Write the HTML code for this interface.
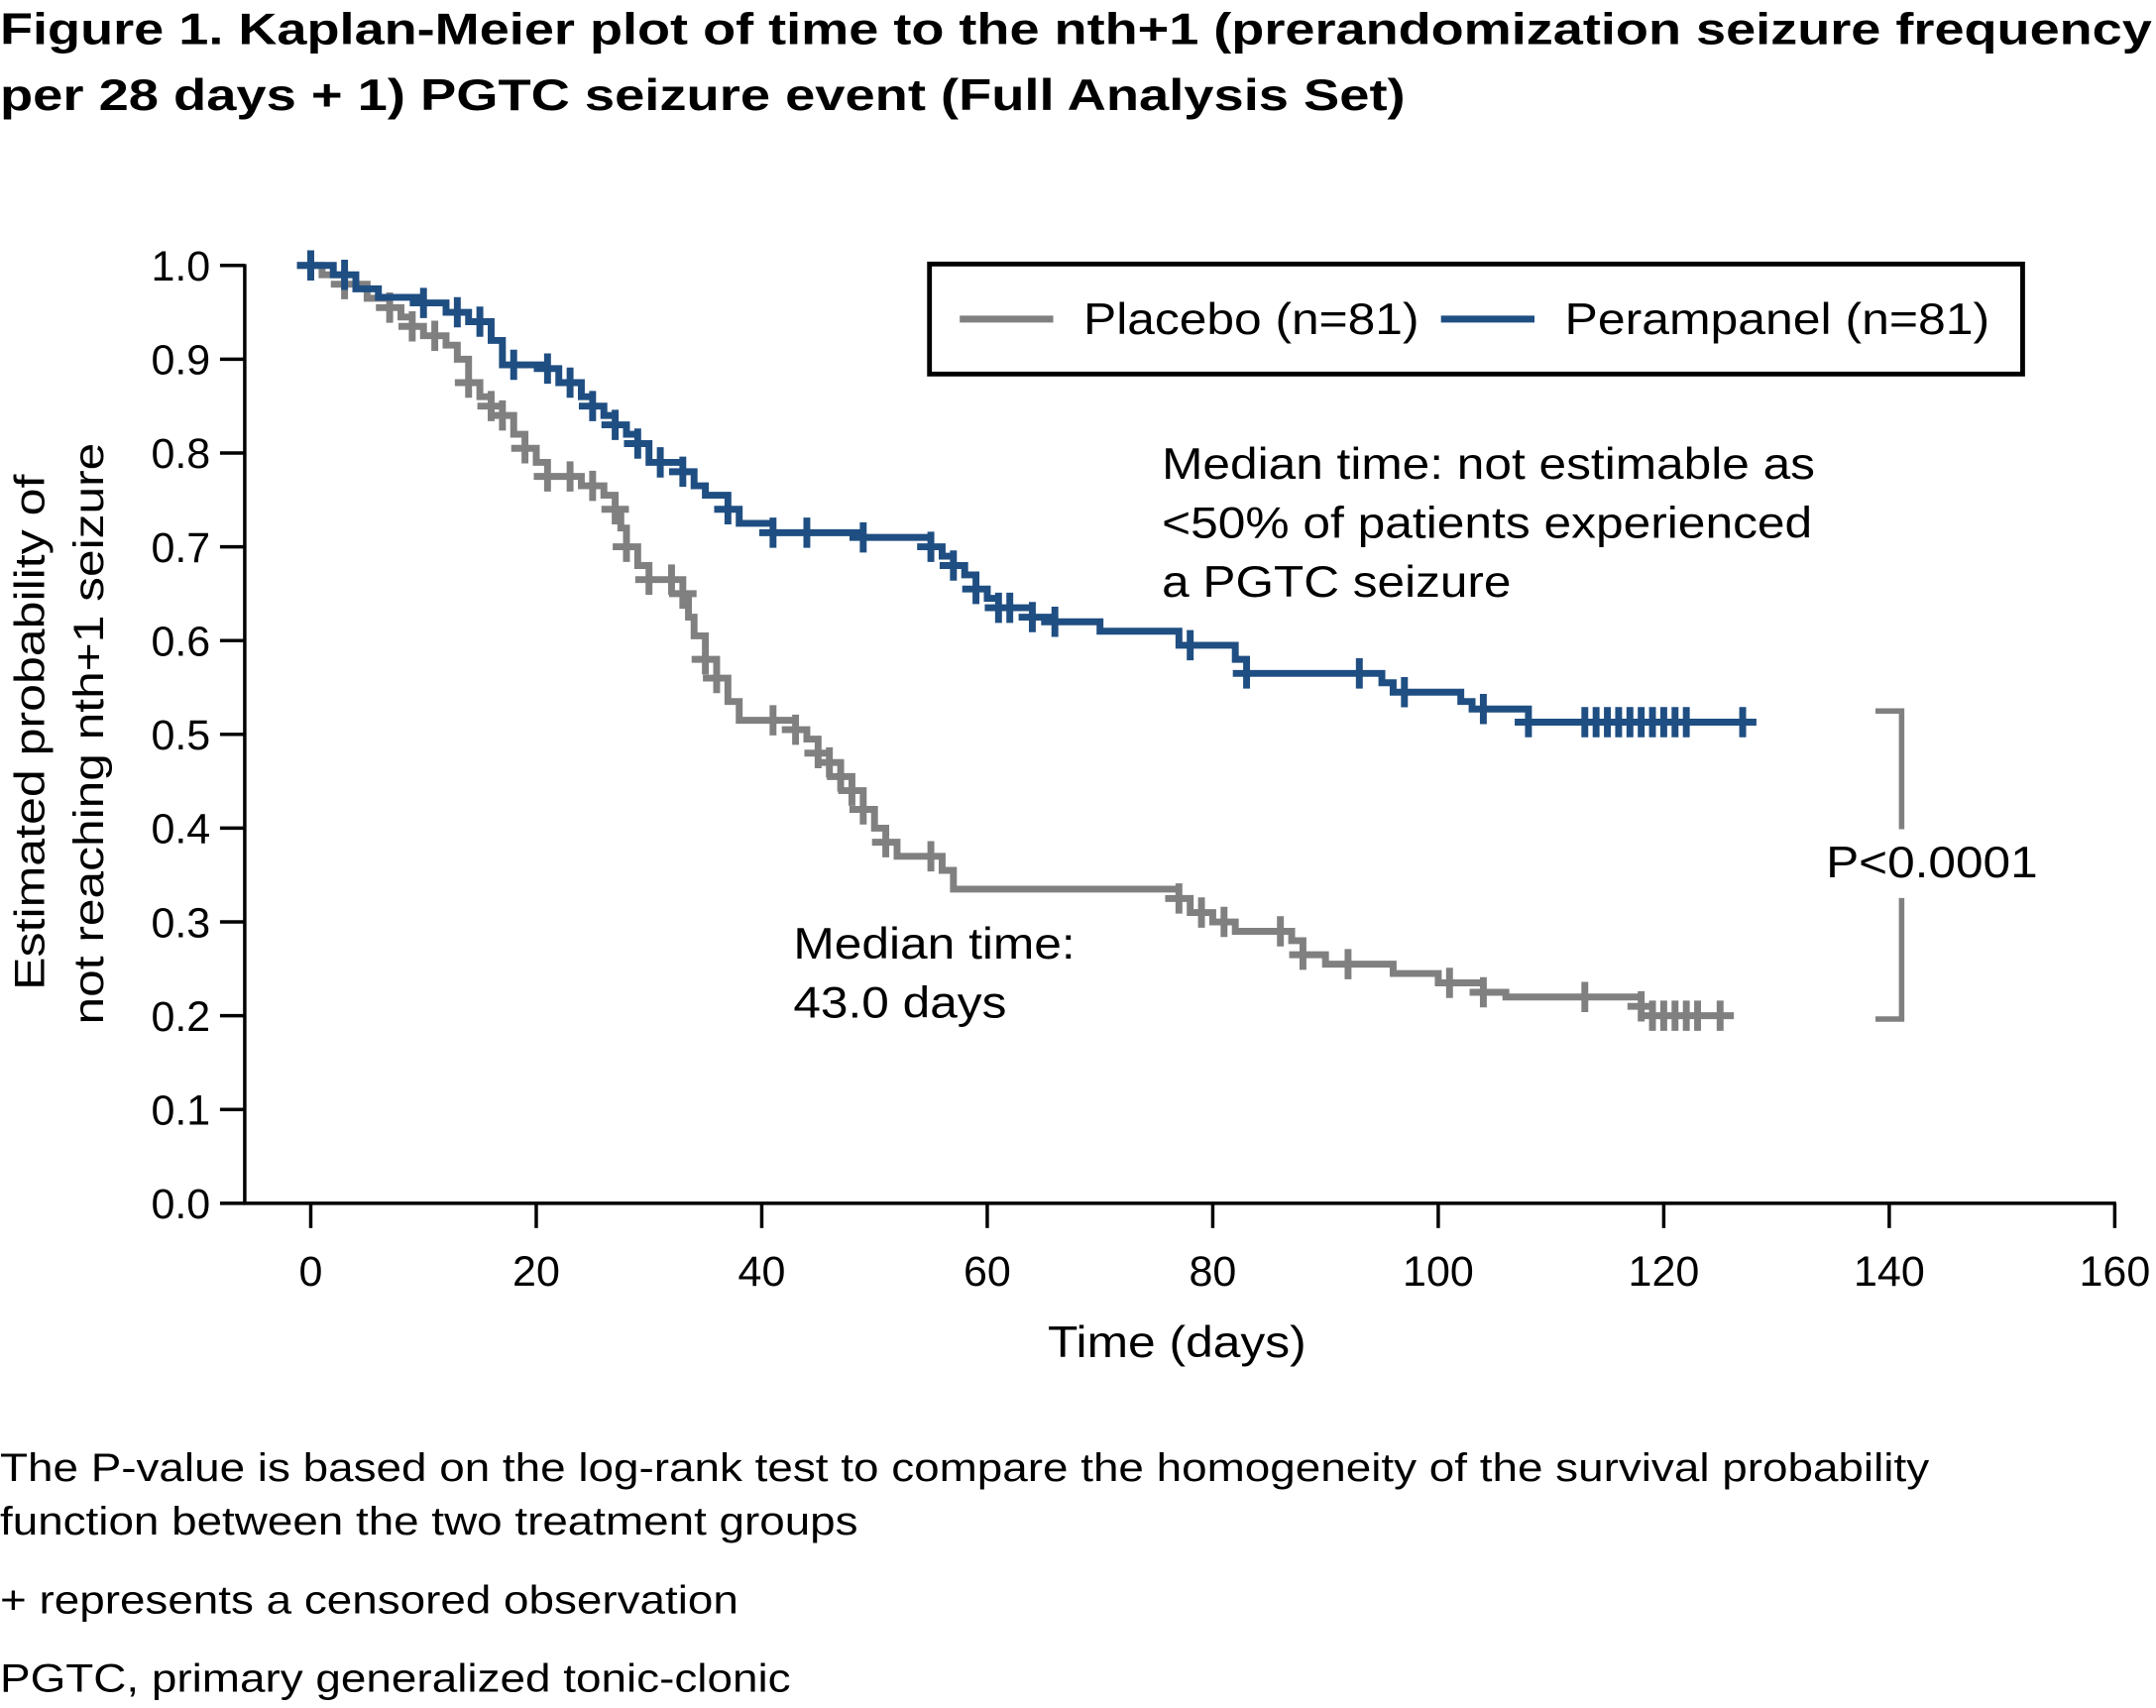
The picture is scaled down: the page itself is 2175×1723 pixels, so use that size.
<!DOCTYPE html>
<html><head><meta charset="utf-8"><style>
html,body{margin:0;padding:0;background:#fff;}
svg{display:block;}
text{font-family:"Liberation Sans",Arial,sans-serif;fill:#000;}
</style></head><body>
<svg id="s" width="2175" height="1723" viewBox="0 0 1568 1242" preserveAspectRatio="none" xmlns="http://www.w3.org/2000/svg">
<text x="0" y="32" font-size="32" font-weight="bold" textLength="1565" lengthAdjust="spacingAndGlyphs">Figure 1. Kaplan-Meier plot of time to the nth+1 (prerandomization seizure frequency</text>
<text x="0" y="80" font-size="32" font-weight="bold" textLength="1022" lengthAdjust="spacingAndGlyphs">per 28 days + 1) PGTC seizure event (Full Analysis Set)</text>
<g stroke="#000" stroke-width="2.5" fill="none">
<line x1="178" y1="192" x2="178" y2="876"/>
<line x1="177" y1="875" x2="1539" y2="875"/>
</g>
<g id="ticks" stroke="#000" stroke-width="2.5"></g>
<g id="labels" font-size="31"></g>
<text x="762" y="987" font-size="32" textLength="188" lengthAdjust="spacingAndGlyphs">Time (days)</text>
<text transform="translate(32,720) rotate(-90)" font-size="31" textLength="375" lengthAdjust="spacingAndGlyphs">Estimated probability of</text>
<text transform="translate(75,745) rotate(-90)" font-size="31" textLength="423" lengthAdjust="spacingAndGlyphs">not reaching nth+1 seizure</text>
<path id="pl" fill="none" stroke="#808080" stroke-width="5"/>
<path id="pe" fill="none" stroke="#1f4e82" stroke-width="5"/>
<rect x="676" y="192" width="795" height="80" fill="none" stroke="#000" stroke-width="3.5"/>
<line x1="698" y1="232" x2="766" y2="232" stroke="#808080" stroke-width="5"/>
<text x="788" y="243" font-size="32" textLength="244" lengthAdjust="spacingAndGlyphs">Placebo (n=81)</text>
<line x1="1048" y1="232" x2="1116" y2="232" stroke="#1f4e82" stroke-width="5"/>
<text x="1138" y="243" font-size="32" textLength="309" lengthAdjust="spacingAndGlyphs">Perampanel (n=81)</text>
<text x="845" y="348" font-size="32" textLength="475" lengthAdjust="spacingAndGlyphs">Median time: not estimable as</text>
<text x="845" y="391" font-size="32" textLength="473" lengthAdjust="spacingAndGlyphs">&lt;50% of patients experienced</text>
<text x="845" y="434" font-size="32" textLength="254" lengthAdjust="spacingAndGlyphs">a PGTC seizure</text>
<text x="577" y="697" font-size="32" textLength="205" lengthAdjust="spacingAndGlyphs">Median time:</text>
<text x="577" y="740" font-size="32" textLength="155" lengthAdjust="spacingAndGlyphs">43.0 days</text>
<path d="M1364 517 H1383 V603 M1383 653 V741 H1364" fill="none" stroke="#808080" stroke-width="4"/>
<text x="1328" y="638" font-size="32" textLength="154" lengthAdjust="spacingAndGlyphs">P&lt;0.0001</text>
<text x="0" y="1077" font-size="29" textLength="1403" lengthAdjust="spacingAndGlyphs">The P-value is based on the log-rank test to compare the homogeneity of the survival probability</text>
<text x="0" y="1116" font-size="29" textLength="624" lengthAdjust="spacingAndGlyphs">function between the two treatment groups</text>
<text x="0" y="1173" font-size="29" textLength="537" lengthAdjust="spacingAndGlyphs">+ represents a censored observation</text>
<text x="0" y="1230" font-size="29" textLength="575" lengthAdjust="spacingAndGlyphs">PGTC, primary generalized tonic-clonic</text>
</svg>
<script>
const NS="http://www.w3.org/2000/svg";
const X=d=>226+d*8.2, Y=v=>875-v*682;
const t=document.getElementById('ticks'), L=document.getElementById('labels');
function el(p,n,a,tx){const e=document.createElementNS(NS,n);for(const k in a)e.setAttribute(k,a[k]);if(tx)e.textContent=tx;p.appendChild(e);}
for(let i=0;i<=10;i++){const y=Y(i/10);el(t,'line',{x1:160,y1:y,x2:178,y2:y});el(L,'text',{x:153,y:y+11,'text-anchor':'end'},(i/10).toFixed(1));}
for(let d=0;d<=160;d+=20){const x=X(d);el(t,'line',{x1:x,y1:875,x2:x,y2:893});el(L,'text',{x:x,y:935,'text-anchor':'middle'},String(d));}
function curve(id,steps,end,cens){
 let d='M'+X(0)+' '+Y(steps[0][1]);
 for(let i=1;i<steps.length;i++){d+=' H'+X(steps[i][0])+' V'+Y(steps[i][1]);}
 d+=' H'+X(end);
 const val=day=>{let r=steps[0][1];for(const s of steps){if(s[0]<=day)r=s[1];}return r;};
 for(const c of cens){const x=X(c),y=Y(val(c));d+=` M${x-10} ${y} H${x+10} M${x} ${y-11} V${y+11}`;}
 document.getElementById(id).setAttribute('d',d);
}
curve('pe',[[0,1],[2,.99],[4,.975],[6,.966],[10,.96],[12,.95],[14,.94],[16,.92],[17,.894],[21,.89],[22,.875],[24,.86],[25,.85],[26,.84],[27,.83],[28,.82],[29,.81],[30,.79],[33,.78],[34,.765],[35,.755],[37,.74],[38,.725],[41,.715],[49,.71],[55,.70],[56,.69],[57,.68],[58,.67],[59,.655],[60,.645],[61,.635],[64,.625],[66,.62],[70,.61],[77,.595],[82,.58],[83,.565],[95,.555],[96,.545],[102,.535],[103,.527],[108,.513]],127.5,
 [0,3,10,13,15,18,21,23,25,27,29,31,33,37,41,44,49,55,57,59,61,62,64,66,78,83,93,97,104,108,113,114,115,116,117,118,119,120,121,122,127]);
curve('pl',[[0,1],[1,.99],[3,.98],[5,.965],[7,.955],[8,.945],[9,.935],[10,.925],[12,.915],[13,.9],[14,.875],[15,.86],[16,.85],[17,.84],[18,.82],[19,.805],[20,.79],[21,.775],[24,.765],[26,.755],[27,.74],[27.5,.72],[28,.70],[29,.68],[30,.665],[33,.65],[33.5,.625],[34,.605],[35,.58],[36,.56],[37,.535],[38,.515],[43,.505],[44,.495],[45,.48],[46,.47],[47,.455],[48,.44],[49,.42],[50,.40],[51,.385],[52,.37],[56,.355],[57,.335],[77,.325],[78,.31],[80,.30],[82,.29],[87,.28],[88,.265],[90,.255],[96,.245],[100,.235],[104,.225],[106,.22],[118,.21],[119,.20]],126,
 [0,3,7,9,11,14,16,17,19,21,23,25,27,28,30,32,33,35,36,41,43,45,46,47,48,49,51,55,77,79,81,86,88,92,101,104,113,118,119,120,121,122,123,125]);
</script>
</body></html>
